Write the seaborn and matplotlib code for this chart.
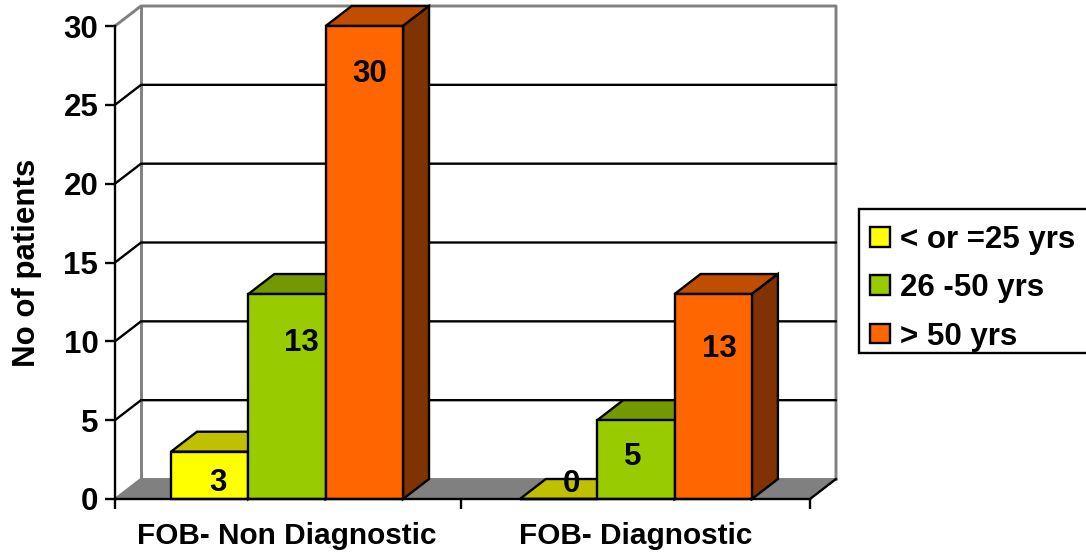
import matplotlib
matplotlib.use("Agg")
import matplotlib.pyplot as plt
from matplotlib.patches import Polygon, Rectangle
import pandas as pd
import seaborn as sns

categories = ["FOB- Non Diagnostic", "FOB- Diagnostic"]
age_groups = ["< or =25 yrs", "26 -50 yrs", "> 50 yrs"]
young = [3, 0]
middle = [13, 5]
older = [30, 13]
y_ticks = [0, 5, 10, 15, 20, 25, 30]

front_colors = ["#FFFF00", "#99CC00", "#FF6600"]
top_colors = ["#C0C000", "#739900", "#C04D00"]
side_colors = ["#808000", "#4D6600", "#803300"]
WALL = "#808080"

sns.set_style("white")
plt.rcParams["font.family"] = ["Liberation Sans", "DejaVu Sans"]
plt.rcParams["font.weight"] = "bold"
FONT = 22.5
CAT_FONT = 21.4
LW = 1.7

W, H = 1086, 553
fig = plt.figure(figsize=(W / 100, H / 100), dpi=100, facecolor="white")
ax = fig.add_axes([115 / W, (H - 499) / H, 695 / W, 473 / H])

table = pd.DataFrame({
    "category": categories * 3,
    "age": [g for g in age_groups for _ in categories],
    "patients": young + middle + older,
})
sns.barplot(data=table, x="category", y="patients", hue="age", order=categories,
            hue_order=age_groups, palette=front_colors, width=0.665, gap=0,
            edgecolor="black", linewidth=LW, saturation=1, ax=ax, zorder=5)

# Keep only the data bars, ordered left to right, before any box faces are added
bars = sorted(ax.containers[0].patches + ax.containers[1].patches + ax.containers[2].patches,
              key=lambda p: p.get_x())

X_LO, X_HI = -0.493, 1.499
ax.set_xlim(X_LO, X_HI)
ax.set_ylim(0, 30)
ax.patch.set_visible(False)

# Depth of the pseudo-3D box, converted from pixels to data units
DX = 26 * (X_HI - X_LO) / 695
DY = 20 * 30 / 473


def box_face(points, **style):
    ax.add_patch(Polygon(points, closed=True, clip_on=False, **style))


# Floor and walls
box_face([(X_LO, 0), (X_LO + DX, DY), (X_HI + DX, DY), (X_HI, 0)],
         facecolor=WALL, edgecolor="none", zorder=1)
ax.plot([X_LO, X_LO + DX], [0, DY], color=WALL, lw=LW, clip_on=False, zorder=1.5)
ax.plot([X_LO, X_LO + DX, X_HI + DX, X_HI + DX], [30, 30 + DY, 30 + DY, DY],
        color=WALL, lw=2.1, clip_on=False, zorder=1.5)
ax.plot([X_LO + DX, X_LO + DX], [DY, 30 + DY], color=WALL, lw=2.1,
        clip_on=False, zorder=1.5)
ax.plot([X_LO + DX, X_HI + DX], [DY, DY], color=WALL, lw=2.1, clip_on=False, zorder=1.5)
ax.plot([X_HI, X_HI + DX], [0, DY], color="black", lw=LW, clip_on=False, zorder=1.6)

# Gridlines run along the left wall and across the back wall
for tick in y_ticks[1:-1]:
    ax.plot([X_LO, X_LO + DX, X_HI + DX], [tick, tick + DY, tick + DY],
            color="black", lw=LW, clip_on=False, zorder=2)

# Top and side faces of every bar, painted left to right
n_ages = len(age_groups)
for i, bar in enumerate(bars):
    x0, w, h = bar.get_x(), bar.get_width(), bar.get_height()
    shade = i % n_ages
    level = 3 + i
    box_face([(x0, h), (x0 + DX, h + DY), (x0 + w + DX, h + DY), (x0 + w, h)],
             facecolor=top_colors[shade], edgecolor="black", linewidth=LW, zorder=level)
    box_face([(x0 + w, 0), (x0 + w + DX, DY), (x0 + w + DX, h + DY), (x0 + w, h)],
             facecolor=side_colors[shade], edgecolor="black", linewidth=LW, zorder=level)
    bar.set_zorder(level + 0.5)
    bar.set_clip_on(False)

# Value labels sit at hand-placed offsets from each bar's top centre (pixels)
label_offsets = [(8, -31), (14, -49), (5, -48), (13, 15), (-3, -37), (6, -55)]
for i, bar in enumerate(bars):
    ox, oy = label_offsets[i]
    ax.annotate(f"{bar.get_height():.0f}",
                xy=(bar.get_x() + bar.get_width() / 2, bar.get_height()),
                xytext=(ox * 0.72, oy * 0.72), textcoords="offset points",
                ha="center", va="center", fontsize=FONT, fontweight="bold",
                color="black", zorder=50, annotation_clip=False)

# Axes
sns.despine(ax=ax, top=True, right=True, left=False, bottom=False)
for side in ("left", "bottom"):
    ax.spines[side].set_color("black")
    ax.spines[side].set_linewidth(LW)
    ax.spines[side].set_zorder(40)
ax.set_yticks(y_ticks)
ax.set_xticks([0, 1])
ax.set_xticks([X_LO, 0.5, X_HI], minor=True)
ax.tick_params(axis="y", which="major", left=True, length=7, width=LW, color="black",
               labelsize=FONT, pad=5, labelcolor="black")
ax.tick_params(axis="x", which="major", bottom=False, labelsize=CAT_FONT, pad=13,
               labelcolor="black")
ax.tick_params(axis="x", which="minor", bottom=True, length=7, width=LW, color="black")
ax.set_xlabel("")
ax.set_ylabel("No of patients", fontsize=FONT, fontweight="bold", color="black",
              labelpad=0)
ax.yaxis.set_label_coords(-73 / 695, 0.5)

# The legend frame is a separate box that runs off the right edge of the figure
fig.add_artist(Rectangle((859 / W, (H - 353) / H), 240 / W, 144 / H,
                         transform=fig.transFigure, facecolor="white",
                         edgecolor="black", linewidth=LW))
handles, labels = ax.get_legend_handles_labels()
ax.get_legend().remove()
legend = fig.legend(handles, labels, loc="upper left",
                    bbox_to_anchor=(859 / W, (H - 214) / H), bbox_transform=fig.transFigure,
                    fontsize=FONT, frameon=False, borderaxespad=0, borderpad=0.36,
                    handlelength=0.64, handleheight=0.6, handletextpad=0.3,
                    labelspacing=0.58, labelcolor="black")

fig.savefig("out.png", dpi=100, facecolor="white")
